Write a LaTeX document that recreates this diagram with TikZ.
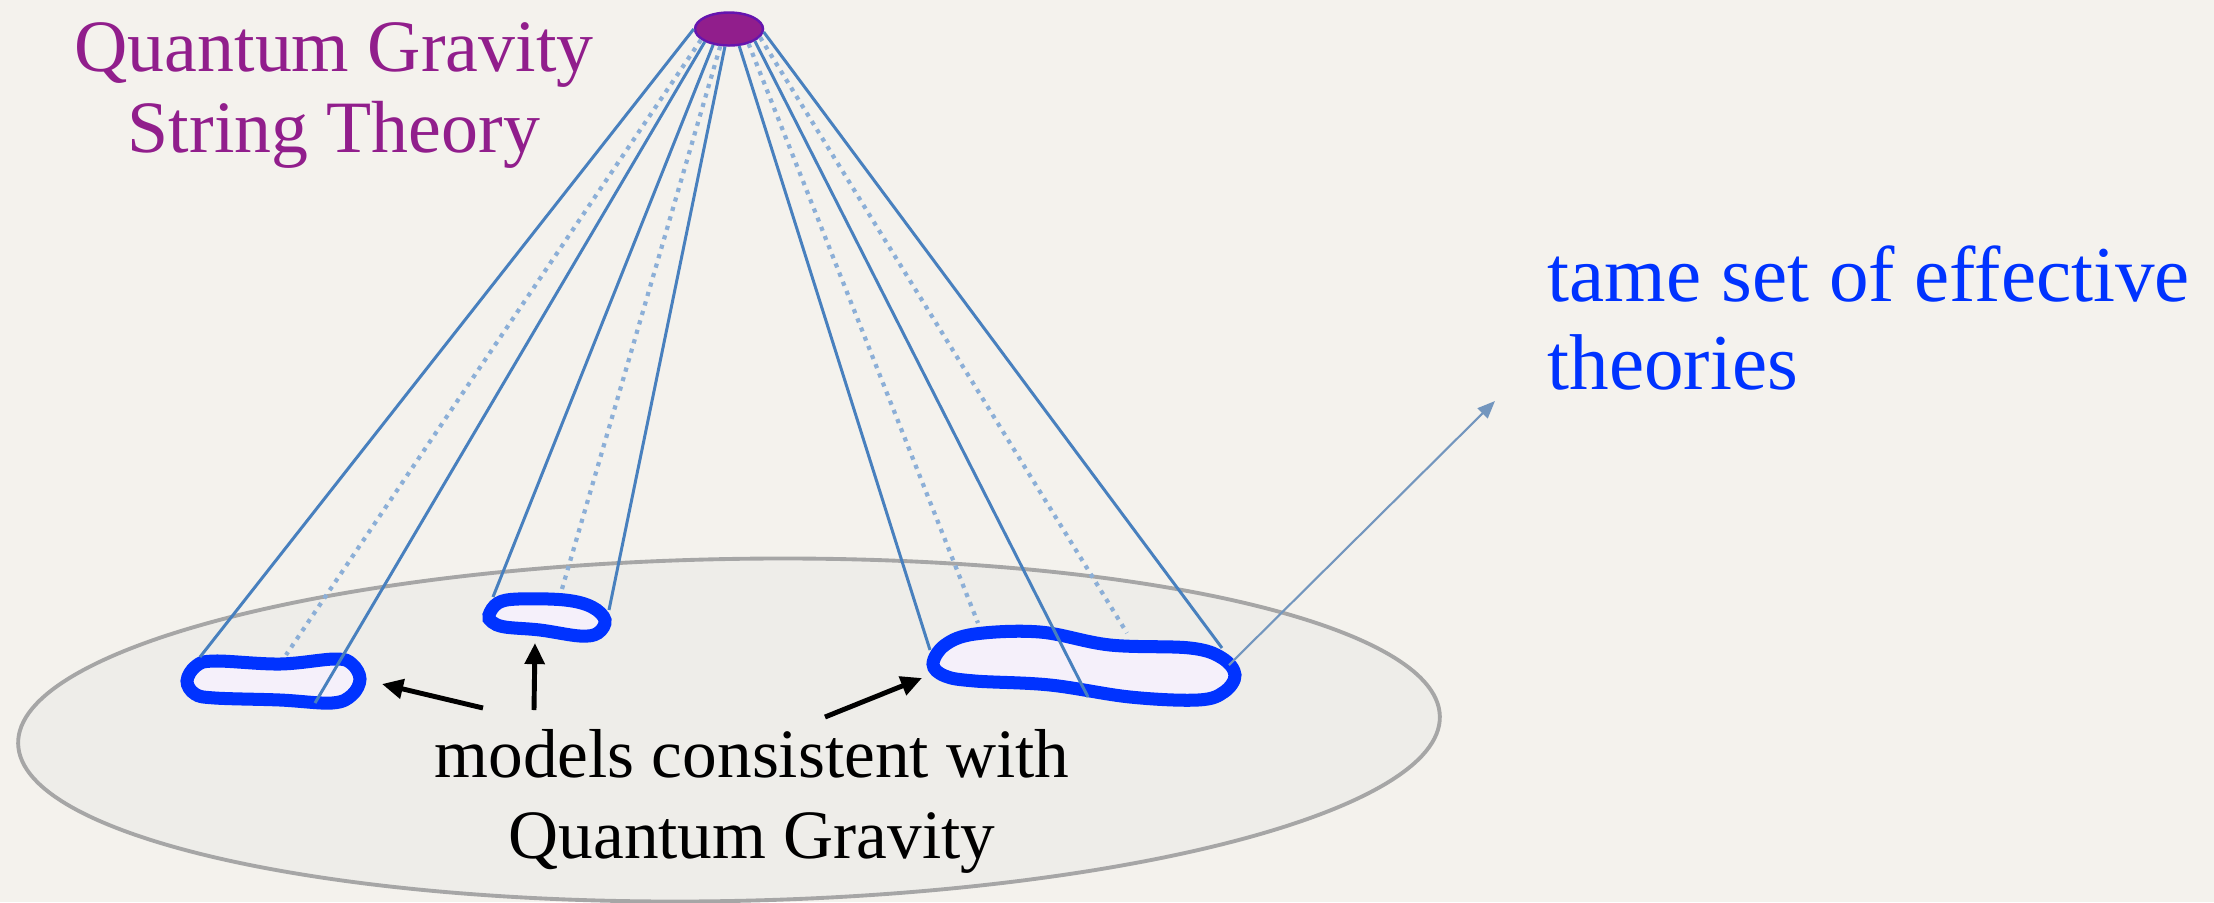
\documentclass[tikz,border=0pt]{standalone}
\usepackage{fontspec}
\setmainfont{Liberation Serif}
\usetikzlibrary{arrows.meta, shapes.geometric}
\definecolor{paper}{RGB}{244,242,237}
\definecolor{plain}{RGB}{238,237,233}
\definecolor{plum}{RGB}{145,30,140}
\definecolor{strandblue}{RGB}{72,128,190}
\definecolor{faintblue}{RGB}{140,175,215}
\definecolor{edgeblue}{RGB}{0,51,255}
\definecolor{inside}{RGB}{245,240,250}
\definecolor{tagblue}{RGB}{115,150,190}
\tikzset{
    region/.style={draw=black!35, line width=1.1pt, fill=plain},
    blob/.style={draw=edgeblue, line width=3.7pt, fill=inside},
    strand/.style={draw=strandblue, line width=0.85pt},
    faintstrand/.style={draw=faintblue, line width=1.2pt, dash pattern=on 1.2pt off 1.6pt},
    pointer/.style={-{Triangle[length=6pt,width=5.5pt]}, line width=1.4pt, draw=black},
    tagarrow/.style={-{Triangle[length=5pt,width=4pt]}, line width=0.6pt, draw=tagblue},
    source/.style={
        ellipse, draw=plum!70!blue, fill=plum, line width=0.7pt,
        minimum width=0.68cm, minimum height=0.33cm, inner sep=0pt
    },
    words/.style={inner sep=0pt, align=center}
}
\begin{document}
\begin{tikzpicture}[x=0.01cm, y=-0.01cm]
    \fill[paper] (0,0) rectangle (2214,902);
    \useasboundingbox (0,0) rectangle (2214,902);

    % the space of theories
    \draw[region, rotate around={1.1:(729,730)}] (729,730) ellipse [x radius=711, y radius=171];

    % models
    \draw[blob] plot[smooth cycle, tension=0.6] coordinates {
        (187,681) (196,666) (215,661) (280,664) (335,659) (352,664) (360,679)
        (352,695) (332,703) (280,700) (215,698) (195,694)};
    \draw[blob] plot[smooth cycle, tension=0.6] coordinates {
        (489,615) (498,603) (518,599) (565,600) (592,607) (605,620)
        (598,633) (580,636) (540,630) (505,627) (492,622)};
    \draw[blob] plot[smooth cycle, tension=0.6] coordinates {
        (933,664) (945,645) (975,634) (1040,632) (1110,645) (1190,648) (1222,658)
        (1235,675) (1224,692) (1198,700) (1130,697) (1050,685) (975,681) (945,676)};

    \node[source] (qg) at (729,29) {};

    \coordinate (l1) at (200,657);
    \coordinate (l2) at (286,655);
    \coordinate (l3) at (315,703);
    \coordinate (m1) at (493,597);
    \coordinate (m2) at (562,589);
    \coordinate (m3) at (609,610);
    \coordinate (r1) at (930,650);
    \coordinate (r2) at (978,623);
    \coordinate (r3) at (1088,697);
    \coordinate (r4) at (1127,633);
    \coordinate (r5) at (1222,648);
    \coordinate (r6) at (1229,665);

    \draw[strand] (qg.180) -- (l1);
    \draw[faintstrand] (qg.201) -- (l2);
    \draw[strand] (qg.208) -- (l3);
    \draw[strand] (qg.225) -- (m1);
    \draw[faintstrand] (qg.243) -- (m2);
    \draw[strand] (qg.257) -- (m3);
    \draw[strand] (qg.301) -- (r1);
    \draw[faintstrand] (qg.323) -- (r2);
    \draw[strand] (qg.335) -- (r3);
    \draw[faintstrand] (qg.345) -- (r4);
    \draw[strand] (qg.355) -- (r5);

    % labels
    \node[words, text=plum, font=\fontsize{21}{23}\selectfont, anchor=base] (title) at (334,152)
        {Quantum Gravity\\String Theory};
    \node[words, text=edgeblue, align=left, font=\fontsize{22.5}{25}\selectfont, anchor=base west] (tame) at (1547,389)
        {tame set of effective\\theories};
    \node[words, font=\fontsize{19.7}{22.8}\selectfont, anchor=base] (models) at (752,858)
        {models consistent with\\Quantum Gravity};

    \coordinate (t1) at (483,708);
    \coordinate (t2) at (534,710);
    \coordinate (t3) at (825,717);
    \coordinate (h1) at (382,684);
    \coordinate (h2) at (535,643);
    \coordinate (h3) at (922,678);
    \coordinate (tg) at (1495,401);

    \draw[pointer] (t1) -- (h1);
    \draw[pointer] (t2) -- (h2);
    \draw[pointer] (t3) -- (h3);
    \draw[tagarrow] (r6) -- (tg);
\end{tikzpicture}
\end{document}
